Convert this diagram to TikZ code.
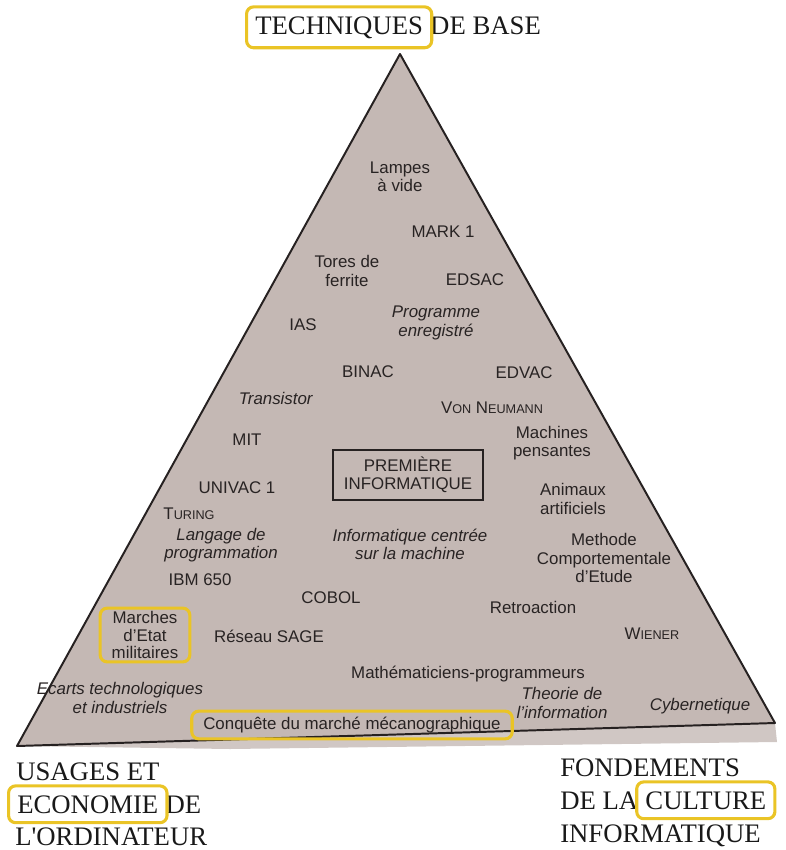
\documentclass[tikz,border=0pt]{standalone}
\usepackage{fontspec}
\setmainfont{Liberation Serif}
\newfontfamily\labelfont{Liberation Sans}
\usetikzlibrary{positioning,fit}

\definecolor{pyrfill}{RGB}{196,184,180}
\definecolor{pyrstrip}{RGB}{208,199,196}
\definecolor{pyredge}{RGB}{38,33,33}
\definecolor{hlyellow}{RGB}{234,196,38}
\definecolor{inkgray}{RGB}{40,35,35}

% fake small capitals for the names
\newcommand{\minisc}[1]{{\fontsize{9}{10}\selectfont #1}}

\tikzset{
  heading/.style={font=\fontsize{19}{23}\selectfont, text=black!90, inner sep=0pt},
  entry/.style={font=\labelfont\fontsize{12}{13}\selectfont, text=inkgray, align=center, inner sep=0pt},
  hlbox/.style={draw=hlyellow, line width=2.2pt, rounded corners=5pt, inner xsep=6pt, inner ysep=6.5pt},
}

\begin{document}
\begin{tikzpicture}[x=0.025cm, y=-0.025cm]
    \useasboundingbox (0,0) rectangle (786,850);

    % Pyramid
    \fill[pyrstrip] (17,746) -- (775,723) -- (777,742) -- (230,749) -- cycle;
    \draw[pyredge, line width=1.4pt, line join=round, fill=pyrfill] (400,54) -- (17,746) -- (775,723) -- cycle;

    % Corner headings
    \node (tech) [heading, anchor=base west] at (255,34) {TECHNIQUES};
    \node (base) [heading, base right=4.75pt of tech] {DE BASE};

    \node (usages) [heading, anchor=base west] at (16,780) {USAGES ET};
    \node (econ) [heading, anchor=base west] at (17,813) {ECONOMIE};
    \node (econde) [heading, base right=4.75pt of econ] {DE};
    \node (ordi) [heading, anchor=base west] at (15,845) {L\textquotesingle ORDINATEUR};

    \node (fond) [heading, anchor=base west] at (560,776) {FONDEMENTS};
    \node (dela) [heading, anchor=base west] at (560,809) {DE LA};
    \node (culture) [heading, base right=4.75pt of dela] {CULTURE};
    \node (infor) [heading, anchor=base west] at (560,842) {INFORMATIQUE};

    % Entries inside the pyramid
    \node (lampes) [entry] at (400,177) {Lampes\\à vide};
    \node (mark) [entry] at (443,232) {MARK 1};
    \node (tores) [entry] at (347,271) {Tores de\\ferrite};
    \node (edsac) [entry] at (475,280) {EDSAC};
    \node (ias) [entry] at (303,325) {IAS};
    \node (prog) [entry, font=\labelfont\itshape\fontsize{12}{13}\selectfont] at (436,323) {Programme\\enregistré};
    \node (binac) [entry] at (368,372) {BINAC};
    \node (edvac) [entry] at (524,373) {EDVAC};
    \node (transistor) [entry] at (276,398) {\textit{Transistor}};
    \node (neumann) [entry] at (492,408) {V\minisc{ON} N\minisc{EUMANN}};
    \node (machines) [entry] at (552,443) {Machines\\pensantes};
    \node (mit) [entry] at (247,440) {MIT};
    \node (premiere) [entry, draw=pyredge, line width=1.6pt, inner xsep=8pt, inner ysep=5pt] at (408,475) {PREMIÈRE\\INFORMATIQUE};
    \node (univac) [entry] at (237,488) {UNIVAC 1};
    \node (animaux) [entry] at (573,499) {Animaux\\artificiels};
    \node (turing) [entry] at (189,514) {T\minisc{URING}};
    \node (langage) [entry, font=\labelfont\itshape\fontsize{12}{13}\selectfont] at (221,545) {Langage de\\programmation};
    \node (centree) [entry, font=\labelfont\itshape\fontsize{12}{13}\selectfont] at (410,544) {Informatique centrée\\sur la machine};
    \node (methode) [entry] at (604,558) {Methode\\Comportementale\\d’Etude};
    \node (ibm) [entry] at (200,580) {IBM 650};
    \node (cobol) [entry] at (331,598) {COBOL};
    \node (retro) [entry] at (533,607) {Retroaction};
    \node (marches) [entry, font=\labelfont\fontsize{12}{12.5}\selectfont] at (145,635) {Marches\\d’Etat\\militaires};
    \node (sage) [entry] at (269,636) {Réseau SAGE};
    \node (wiener) [entry] at (652,634) {W\minisc{IENER}};
    \node (maths) [entry] at (468,674) {Mathématiciens-programmeurs};
    \node (ecarts) [entry, font=\labelfont\itshape\fontsize{12}{13}\selectfont] at (120,698) {Ecarts technologiques\\et industriels};
    \node (theorie) [entry, font=\labelfont\itshape\fontsize{12}{13}\selectfont] at (562,703) {Theorie de\\l’information};
    \node (cyber) [entry] at (700,706) {\textit{Cybernetique}};
    \node (conquete) [entry] at (352,725) {Conquête du marché mécanographique};

    % Yellow highlights
    \node (techhl) [hlbox, fit=(tech)] {};
    \node (econhl) [hlbox, fit=(econ)] {};
    \node (culthl) [hlbox, fit=(culture)] {};
    \node (marchhl) [hlbox, inner xsep=8pt, inner ysep=2pt, fit=(marches)] {};
    \node (conqhl) [hlbox, inner xsep=8pt, inner ysep=4pt, fit=(conquete)] {};
\end{tikzpicture}
\end{document}
